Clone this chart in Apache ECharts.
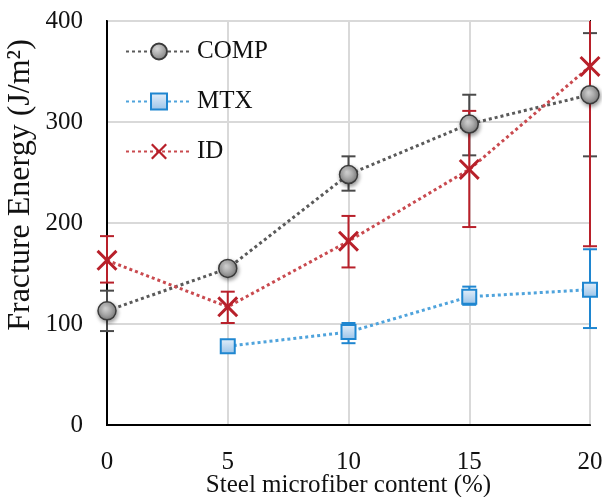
<!DOCTYPE html>
<html>
<head>
<meta charset="utf-8">
<script src="https://cdn.jsdelivr.net/npm/echarts@6/dist/echarts.min.js"></script>
<style>
  html, body { margin: 0; padding: 0; background: #fff; }
  #chart { width: 602px; height: 497px; }
</style>
</head>
<body>
<div id="chart"></div>
<script>
const xValues = [0, 5, 10, 15, 20]
const xTicks = [0, 5, 10, 15, 20]
const yTicks = [0, 100, 200, 300, 400]

const compValues = [113, 155, 248, 298, 327]
const compLow = [93, null, 232, 267, 266]
const compHigh = [133, null, 266, 327, 388]

const mtxValues = [null, 78, 92, 127, 134]
const mtxLow = [null, null, 81, 119, 96]
const mtxHigh = [null, null, 101, 137, 174]

const idValues = [163, 117, 182, 253, 355]
const idLow = [141, 101, 156, 196, 177]
const idHigh = [187, 132, 207, 311, 533]

const FONT = "'Liberation Serif', 'Times New Roman', serif"
const Y_MAX = 400

const pairs = vals => xValues.map((x, i) => [x, vals[i]])
const bars = (lo, hi) =>
  xValues.map((x, i) => [x, lo[i], hi[i]]).filter(d => d[1] != null && d[2] != null)

const errorSeries = (name, lo, hi, color) => ({
  name: name + " err",
  type: "custom",
  z: 1,
  silent: true,
  data: bars(lo, hi),
  renderItem: (params, api) => {
    const x = api.value(0)
    const top = Math.min(api.value(2), Y_MAX)
    const lowPt = api.coord([x, api.value(1)])
    const highPt = api.coord([x, top])
    const cap = 7
    const style = { stroke: color, lineWidth: 2 }
    const children = [
      { type: "line", shape: { x1: lowPt[0], y1: lowPt[1], x2: highPt[0], y2: highPt[1] }, style },
      { type: "line", shape: { x1: lowPt[0] - cap, y1: lowPt[1], x2: lowPt[0] + cap, y2: lowPt[1] }, style }
    ]
    if (api.value(2) <= Y_MAX) {
      children.push({ type: "line", shape: { x1: highPt[0] - cap, y1: highPt[1], x2: highPt[0] + cap, y2: highPt[1] }, style })
    }
    return { type: "group", children }
  }
})

const crossPath = "path://M0,2 L2,0 L10,8 L18,0 L20,2 L12,10 L20,18 L18,20 L10,12 L2,20 L0,18 L8,10 Z"

const chart = echarts.init(document.getElementById("chart"))
chart.setOption({
  animation: false,
  grid: {
    left: 107, right: 12, top: 21, bottom: 72,
    containLabel: false,
    outerBoundsMode: "none",
    show: true, borderColor: "#000", borderWidth: 2
  },
  legend: {
    data: ["COMP", "MTX", "ID"],
    orient: "vertical",
    left: 120,
    top: 34,
    itemWidth: 66,
    itemHeight: 20,
    itemGap: 25,
    textStyle: { fontFamily: FONT, fontSize: 25, color: "#111" }
  },
  xAxis: {
    type: "value",
    min: xTicks[0],
    max: xTicks[xTicks.length - 1],
    interval: 5,
    name: "Steel microfiber content (%)",
    nameLocation: "middle",
    nameMoveOverlap: false,
    nameGap: 48,
    nameTextStyle: { fontFamily: FONT, fontSize: 25, color: "#111" },
    axisLine: { lineStyle: { color: "#000", width: 2 } },
    axisTick: { show: false },
    axisLabel: { fontFamily: FONT, fontSize: 25, color: "#111", margin: 25 },
    splitLine: { lineStyle: { color: "#d9d9d9", width: 2 } }
  },
  yAxis: {
    type: "value",
    min: yTicks[0],
    max: yTicks[yTicks.length - 1],
    interval: 100,
    name: "Fracture Energy (J/m\u00b2)",
    nameLocation: "middle",
    nameMoveOverlap: false,
    nameGap: 70,
    nameTextStyle: { fontFamily: FONT, fontSize: 32, color: "#111", padding: [0, 0, 0, 76] },
    axisLine: { lineStyle: { color: "#000", width: 2 } },
    axisTick: { show: false },
    axisLabel: { fontFamily: FONT, fontSize: 25, color: "#111", margin: 24 },
    splitLine: { lineStyle: { color: "#d9d9d9", width: 2 } }
  },
  series: [
    errorSeries("COMP", compLow, compHigh, "#4a4a4a"),
    errorSeries("MTX", mtxLow, mtxHigh, "#1f86d0"),
    errorSeries("ID", idLow, idHigh, "#b8202a"),
    {
      name: "COMP",
      type: "line",
      z: 3,
      data: pairs(compValues),
      symbol: "circle",
      symbolSize: 18,
      lineStyle: { color: "#5a5a5a", width: 3, type: [3, 3] },
      itemStyle: {
        color: new echarts.graphic.RadialGradient(0.4, 0.35, 0.7, [
          { offset: 0, color: "#d8d8d8" },
          { offset: 1, color: "#7a7a7a" }
        ]),
        borderColor: "#3a3a3a",
        borderWidth: 1.5,
        shadowBlur: 4,
        shadowColor: "rgba(0,0,0,0.4)",
        shadowOffsetX: 1,
        shadowOffsetY: 2
      }
    },
    {
      name: "MTX",
      type: "line",
      z: 3,
      data: pairs(mtxValues),
      symbol: "rect",
      symbolSize: 14,
      lineStyle: { color: "#4fa3dc", width: 3, type: [3, 3] },
      itemStyle: {
        color: new echarts.graphic.LinearGradient(0, 0, 0, 1, [
          { offset: 0, color: "#e6f0fa" },
          { offset: 1, color: "#98c2e8" }
        ]),
        borderColor: "#1f86d0",
        borderWidth: 2
      }
    },
    {
      name: "ID",
      type: "line",
      z: 3,
      data: pairs(idValues),
      symbol: crossPath,
      symbolSize: 21,
      lineStyle: { color: "#c94a4f", width: 3, type: [3, 3] },
      itemStyle: { color: "#b8202a" }
    }
  ]
})
</script>
</body>
</html>
